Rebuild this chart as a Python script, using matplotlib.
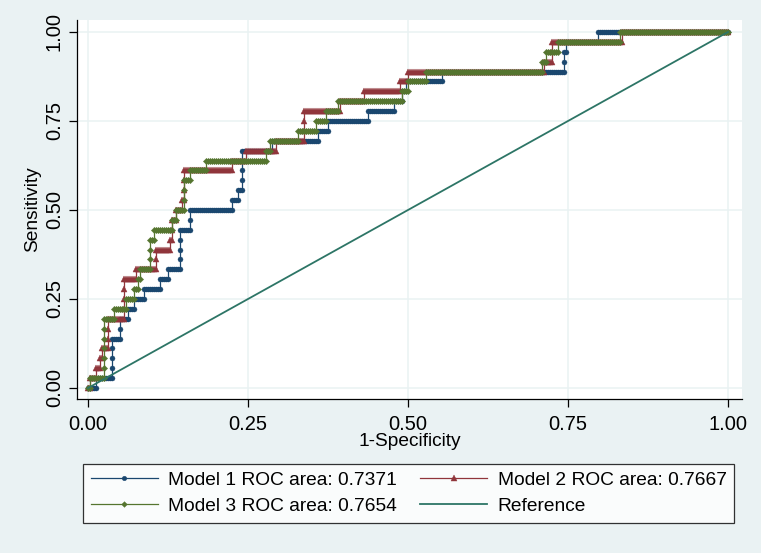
import numpy as np
import matplotlib
matplotlib.use("Agg")
import matplotlib.pyplot as plt

plt.rcParams['font.family'] = ['Liberation Sans', 'DejaVu Sans']

# 36 positive cases, 320 negative cases
n_pos = 36
n_neg = 320
# number of negatives passed before each positive is reached (one value per positive)
fp_model1 = [4, 12, 12, 12, 12, 16, 16, 20, 23, 28, 36, 40, 46, 46, 46, 46, 51, 51,
             72, 75, 77, 77, 77, 77, 92, 115, 120, 140, 153, 157, 159, 177, 238, 238, 239, 255]
fp_model2 = [1, 4, 6, 7, 10, 10, 10, 18, 18, 18, 18, 24, 34, 34, 41, 42, 42, 44,
             47, 48, 48, 48, 72, 79, 94, 108, 108, 108, 126, 138, 156, 160, 228, 232, 232, 267]
fp_model3 = [1, 8, 8, 8, 8, 8, 8, 13, 19, 23, 25, 26, 31, 31, 31, 33, 42, 44,
             48, 48, 48, 51, 59, 89, 91, 105, 114, 119, 125, 157, 160, 169, 227, 229, 235, 266]
labels = ["Model 1 ROC area: 0.7371", "Model 2 ROC area: 0.7667",
          "Model 3 ROC area: 0.7654", "Reference"]
ticks = [0, 0.25, 0.5, 0.75, 1.0]
tick_labels = ["0.00", "0.25", "0.50", "0.75", "1.00"]


def roc_points(fp_counts):
    x, y = [0], [0]
    fp = tp = 0
    for c in fp_counts:
        while fp < c:
            fp += 1
            x.append(fp); y.append(tp)
        tp += 1
        x.append(fp); y.append(tp)
    while fp < n_neg:
        fp += 1
        x.append(fp); y.append(tp)
    return np.array(x) / n_neg, np.array(y) / n_pos


bg = '#eaf2f3'
fig = plt.figure(figsize=(7.61, 5.53), dpi=100, facecolor=bg)
ax = fig.add_axes([77/761, 1-399/553, 665/761, 379/553])
ax.set_facecolor('white')

styles = [(fp_model1, '#1a476f', 'o', 3.6),
          (fp_model2, '#90353b', '^', 4.2),
          (fp_model3, '#55752f', 'D', 3.2)]
handles = []
for (fpc, col, mk, ms), lab in zip(styles, labels[:3]):
    x, y = roc_points(fpc)
    h, = ax.plot(x, y, color=col, lw=0.9, marker=mk, ms=ms, mec=col, mew=0.3,
                 mfc=col, label=lab, zorder=3)
    handles.append(h)
ref, = ax.plot([0, 1], [0, 1], color='#2d7566', lw=1.3, label=labels[3], zorder=4)

ax.set_xlim(-0.0172, 1.0219)
ax.set_ylim(-0.0309, 1.0337)
ax.set_xticks(ticks)
ax.set_xticklabels(tick_labels)
ax.set_yticks(ticks)
ax.set_yticklabels(tick_labels, rotation=90, va='center')
ax.grid(True, color=bg, lw=1.1, zorder=0)
ax.set_axisbelow(True)
for s in ['top', 'right']:
    ax.spines[s].set_visible(False)
for s in ['left', 'bottom']:
    ax.spines[s].set_color('black')
    ax.spines[s].set_linewidth(0.9)
ax.tick_params(direction='out', length=5.5, width=0.9, colors='black', labelsize=14.5)
ax.tick_params(axis='x', pad=6)
ax.tick_params(axis='y', pad=4)

ax.set_xlabel("1-Specificity", fontsize=13.8)
ax.set_ylabel("Sensitivity", fontsize=13.8)
ax.xaxis.set_label_coords(0.5, (399-441)/379)
ax.xaxis.label.set_va('center')
ax.yaxis.set_label_coords((33-77)/665, 0.5)
ax.yaxis.label.set_va('center')

leg = fig.legend([handles[0], handles[2], handles[1], ref],
                 [labels[0], labels[2], labels[1], labels[3]],
                 ncol=2, loc='upper left', bbox_to_anchor=(83/761, 1-464/553),
                 borderaxespad=0, fontsize=13.8, handlelength=3.5, handletextpad=0.55,
                 columnspacing=1.2, borderpad=0.4, labelspacing=0.45,
                 numpoints=1, markerscale=0.9, fancybox=False, frameon=True)
leg.get_frame().set_edgecolor('black')
leg.get_frame().set_linewidth(0.9)
leg.get_frame().set_facecolor('white')

fig.savefig('out.png', dpi=100, facecolor=bg)
